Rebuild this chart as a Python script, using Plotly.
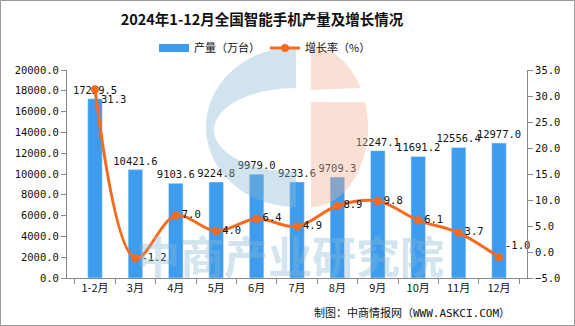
import math
import plotly.graph_objects as go

months = ["1-2月", "3月", "4月", "5月", "6月", "7月", "8月", "9月", "10月", "11月", "12月"]
output = [17239.5, 10421.6, 9103.6, 9224.8, 9979.0, 9233.6, 9709.3, 12247.1, 11691.2, 12556.4, 12977.0]
growth = [31.3, -1.2, 7.0, 4.0, 6.4, 4.9, 8.9, 9.8, 6.1, 3.7, -1.0]

FONT = "Noto Sans CJK SC"
MONO = "DejaVu Sans Mono, Noto Sans CJK SC"
L, R, T, B = 67, 48, 70, 48
W, H = 575, 326
PW, PH = W - L - R, H - T - B
BAR_C = "#3D9CEE"
LINE_C = "#F86A1E"


def px(x):
    return (x - L) / PW


def py(y):
    return (H - B - y) / PH


def path(points):
    return "M " + " L ".join(f"{px(x):.4f},{py(y):.4f}" for x, y in points) + " Z"


def arc(cx, cy, rx, ry, a0, a1, n=40):
    return [(cx + rx * math.cos(math.radians(a0 + (a1 - a0) * i / n)),
             cy - ry * math.sin(math.radians(a0 + (a1 - a0) * i / n))) for i in range(n + 1)]


fig = go.Figure()
# legend proxy for bars (wide rectangle swatch)
fig.add_trace(go.Scatter(x=[months[0]], y=[None], mode="lines", name="产量（万台）",
                         line=dict(color=BAR_C, width=8), hoverinfo="skip"))
fig.add_trace(go.Bar(
    x=months, y=output, name="产量（万台）", showlegend=False,
    marker=dict(color=BAR_C),
    text=[f"{v:.1f}" for v in output], textposition="outside",
    constraintext="none",
    textfont=dict(size=10.5, color="#111111", family=MONO),
    cliponaxis=False,
))
pos = ["middle right"] * len(growth)
pos[0] = "bottom right"
pos[-1] = "top right"
fig.add_trace(go.Scatter(
    x=months, y=growth, name="增长率（%）", yaxis="y2",
    mode="lines+markers+text",
    line=dict(color=LINE_C, width=3, shape="spline", smoothing=1.0),
    marker=dict(color=LINE_C, size=8),
    text=[f"{v:.1f}" for v in growth], textposition=pos,
    textfont=dict(size=10.5, color="#111111", family=MONO),
    cliponaxis=False,
))

axis_common = dict(showline=True, linecolor="#888888", ticks="outside", tickcolor="#888888",
                   ticklen=5, showgrid=False, zeroline=False,
                   tickfont=dict(size=10.5, family=MONO, color="#111111"))

fig.update_layout(
    width=W, height=H,
    margin=dict(l=L, r=R, t=T, b=B),
    paper_bgcolor="white", plot_bgcolor="white",
    font=dict(family=FONT, size=11, color="#111111"),
    title=dict(text="<b>2024年1-12月全国智能手机产量及增长情况</b>",
               xref="paper", x=px(262), xanchor="center", yref="container",
               y=1 - 20 / H, yanchor="middle",
               font=dict(size=14.5, color="#111111", family=FONT)),
    legend=dict(orientation="h", x=px(265), xanchor="center", y=py(48), yanchor="middle",
                font=dict(size=11), itemwidth=30, bgcolor="rgba(0,0,0,0)"),
    bargap=0.64,
    showlegend=True,
    xaxis=dict(type="category", categoryorder="array", categoryarray=months,
               tickson="boundaries", **{**axis_common, "tickfont": dict(size=11, family=FONT)}),
    yaxis=dict(range=[0, 20000], dtick=2000, tickformat=".1f", **axis_common),
    yaxis2=dict(range=[-5, 35], dtick=5, tickformat=".1f", overlaying="y", side="right",
                **axis_common),
)

# watermark logo (decorative)
blue = "rgba(137,185,212,0.4)"
orange = "rgba(242,178,148,0.4)"
outer = arc(296, 127, 90, 80, 90, 270)
inner = arc(296, 130, 82, 42, 270, 90)
fig.add_shape(type="path", xref="paper", yref="paper", path=path(outer + inner),
              fillcolor=blue, line=dict(width=0), layer="above")
right = arc(311, 127, 57, 80, 90, -90, n=80)
top_part = [(311, 47)] + [p for p in right if p[1] <= 90] + [(311, 90)]
bot_part = [(311, 102)] + [p for p in right if p[1] >= 102] + [(311, 207)]
for part in (top_part, bot_part):
    fig.add_shape(type="path", xref="paper", yref="paper", path=path(part),
                  fillcolor=orange, line=dict(width=0), layer="above")

# watermark text
fig.add_annotation(text="<b>中商产业研究院</b>", xref="paper", yref="paper", x=px(290), y=py(255),
                   yanchor="middle", xanchor="center",
                   showarrow=False, font=dict(size=44, color="rgba(137,185,212,0.4)", family=FONT))
# source note
fig.add_annotation(text="制图：中商情报网（WWW.ASKCI.COM）", xref="paper", yref="paper",
                   x=px(512), xanchor="right", y=py(313), yanchor="middle", showarrow=False,
                   font=dict(size=11, color="#111111", family=MONO))
# frame
fig.add_shape(type="rect", xref="paper", yref="paper", x0=px(0.5), x1=px(574.5),
              y0=py(325.5), y1=py(0.5), line=dict(color="#999999", width=1))

fig.write_html("out.html")
